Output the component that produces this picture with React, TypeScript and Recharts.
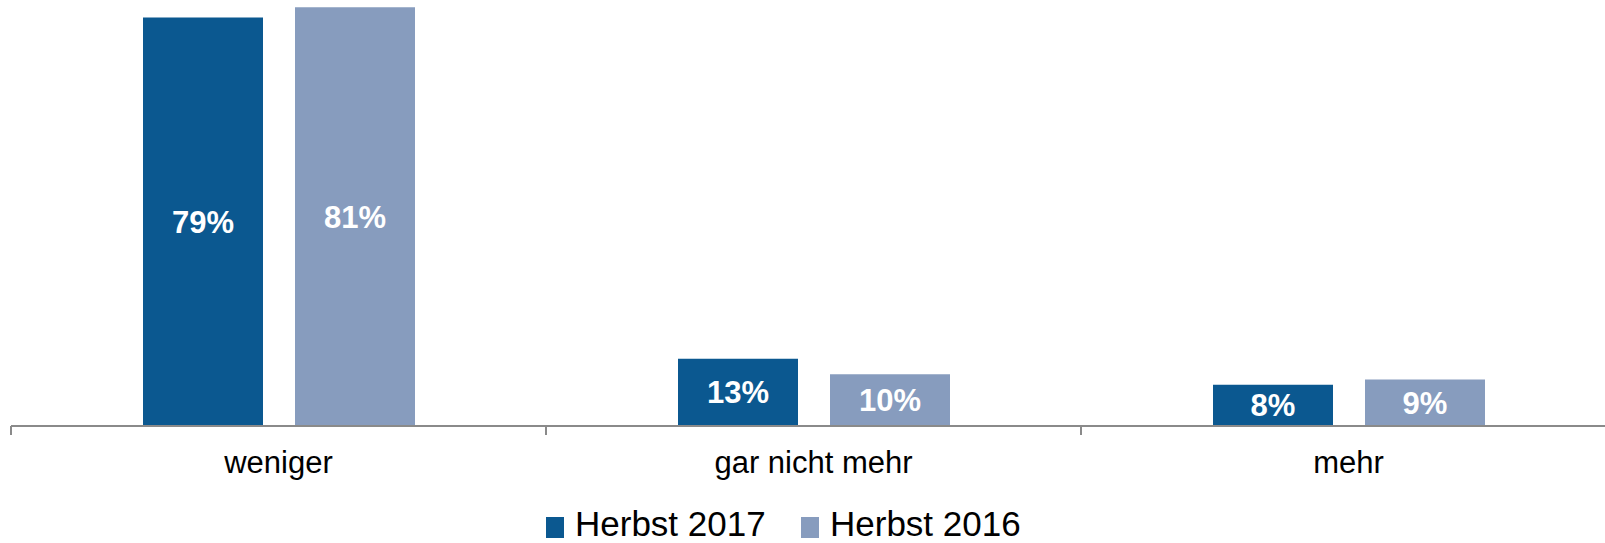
import { Bar, BarChart, LabelList, XAxis, YAxis } from "recharts";

// answer categories and the two survey waves
const categories = ["weniger", "gar nicht mehr", "mehr"];
const herbst2017 = [79, 13, 8];
const herbst2016 = [81, 10, 9];
const seriesNames = ["Herbst 2017", "Herbst 2016"];
const seriesColors = ["#0B5890", "#879CBE"];

const data = categories.map((cat, i) => ({
  cat,
  s2017: herbst2017[i],
  s2016: herbst2016[i],
}));

const FONT = "'Liberation Sans', Arial, sans-serif";

function CatTick(props: any) {
  const { x, y, payload } = props;
  const off = payload.offset ?? 0;
  return (
    <g>
      <line x1={x - off} x2={x - off} y1={y} y2={y + 9} stroke="#8A8A8A" strokeWidth={2} />
      <text x={x} y={y + 47} textAnchor="middle" fontFamily={FONT} fontSize={31} fill="#000">
        {payload.value}
      </text>
    </g>
  );
}

function PctLabel(props: any) {
  const { x, y, width, height, value } = props;
  return (
    <text
      x={x + width / 2}
      y={y + height / 2}
      dy={11}
      textAnchor="middle"
      fontFamily={FONT}
      fontWeight="bold"
      fontSize={31}
      fill="#fff"
    >
      {value}%
    </text>
  );
}

export default function App() {
  return (
    <div style={{ position: "absolute", left: 0, top: 0, width: 1605, height: 543, overflow: "hidden", background: "#fff" }}>
      <BarChart
        width={1620}
        height={543}
        data={data}
        margin={{ top: 2, right: 4, left: 11, bottom: 57 }}
        barSize={120}
        barGap={32}
      >
        <YAxis hide domain={[0, 82]} />
        <XAxis
          dataKey="cat"
          height={60}
          tickSize={0}
          tickMargin={0}
          tickLine={false}
          axisLine={{ stroke: "#8A8A8A", strokeWidth: 2 }}
          tick={<CatTick />}
          interval={0}
        />
        <Bar dataKey="s2017" name={seriesNames[0]} fill={seriesColors[0]} isAnimationActive={false}>
          <LabelList dataKey="s2017" content={<PctLabel />} />
        </Bar>
        <Bar dataKey="s2016" name={seriesNames[1]} fill={seriesColors[1]} isAnimationActive={false}>
          <LabelList dataKey="s2016" content={<PctLabel />} />
        </Bar>
      </BarChart>
      {seriesNames.map((name, i) => (
        <div
          key={name}
          style={{
            position: "absolute",
            left: 546 + i * 255,
            top: 506,
            height: 36,
            display: "flex",
            alignItems: "center",
            fontFamily: FONT,
            fontSize: 35,
            lineHeight: "36px",
            color: "#000",
            whiteSpace: "nowrap",
          }}
        >
          <span style={{ width: 18, height: 21, background: seriesColors[i], marginRight: 11, marginTop: 6 }} />
          <span>{name}</span>
        </div>
      ))}
    </div>
  );
}
